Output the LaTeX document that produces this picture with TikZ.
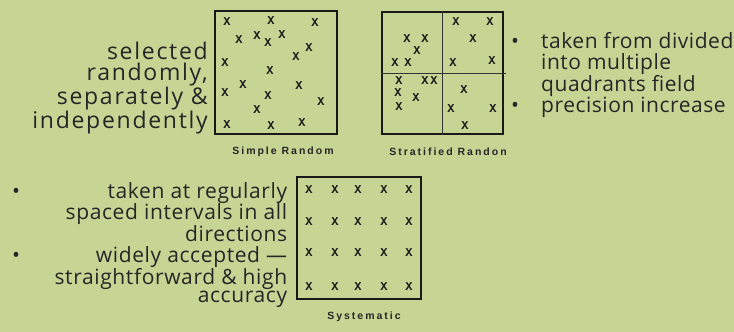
\documentclass[tikz,border=0pt]{standalone}
\usepackage{fontspec}
\setmainfont{Open Sans}
\newfontfamily\markfont{Liberation Mono}
\newfontfamily\capfont[LetterSpace=19]{Liberation Sans}
\usepackage{array}
\usepackage{tikz}
\usetikzlibrary{positioning}

\definecolor{leaf}{HTML}{C6D494}
\definecolor{ink}{HTML}{262626}

\begin{document}
\begin{tikzpicture}[
  x=1pt, y=-1pt,
  plot/.style={draw=black!90, line width=1.4pt, inner sep=0pt},
  divider/.style={draw=black!80, line width=0.8pt},
  xmark/.style={font=\markfont\bfseries\fontsize{12}{12}\selectfont, inner sep=0pt, text=black!90},
  caption/.style={font=\capfont\bfseries\fontsize{10.5}{11}\selectfont, inner sep=0pt, text=black!85},
  notes/.style={text=ink, inner sep=0pt}
]
  % background
  \fill[leaf] (0,0) rectangle (734,332);

  % the three sample plots
  \node[plot, minimum width=122pt, minimum height=123pt] (simple) at (276,72.5) {};
  \node[plot, minimum width=121pt, minimum height=122pt] (strat) at (442.5,73) {};
  \node[plot, minimum width=124pt, minimum height=122pt] (syst) at (359,238) {};
  \draw[divider] (strat.north) -- (strat.south);
  \draw[divider] (strat.west) -- ([xshift=2pt]strat.east);

  \node[caption] (simplecap) at (283,152) {Simple Random};
  \node[caption] (stratcap) at (448,152) {Stratified Randon};
  \node[caption] (systcap) at (364,317) {Systematic};

  % sample points
  \foreach \x/\y [count=\i] in {227/22, 271/21, 315/23, 239/40, 257/36, 268/43, 282/35,
      309/48, 296/57, 225/63, 270/71, 243/85, 299/86, 225/93, 268/96, 321/102,
      257/110, 227/125, 271/126, 302/123}
    \node[xmark] (s\i) at (\x,\y) {X};
  \foreach \x/\y [count=\i] in {456/22, 490/22, 407/39, 425/39, 417/51, 473/39, 395/63,
      408/63, 453/63, 492/61, 399/81, 425/81, 434/81, 398/93, 416/98, 399/107,
      464/90, 451/109, 493/109, 465/126}
    \node[xmark] (t\i) at (\x,\y) {X};
  \foreach \x [count=\c] in {309,335,358,384,409}
    \foreach \y [count=\r] in {190,222,253,287}
      \node[xmark] (g\c\r) at (\x,\y) {X};

  % notes
  \node[notes, anchor=north east, align=right,
        font=\addfontfeature{LetterSpace=7.5}\fontsize{23}{20.7}\selectfont] (simplenote) at (208,42)
    {selected\\randomly,\\separately \&\\independently};
  \node[notes, anchor=north west,
        font=\addfontfeature{LetterSpace=2.5}\fontsize{21}{18.2}\selectfont] (stratnote) at (511,32)
    {\begin{tabular}{@{}p{30pt}@{}l@{}}
       \textbullet & taken from divided\\
                   & into multiple\\
                   & quadrants field\\
       \textbullet & precision increase
     \end{tabular}};
  \node[notes, anchor=north west,
        font=\addfontfeature{LetterSpace=3}\fontsize{21}{18.5}\selectfont] (systnote) at (12,182)
    {\begin{tabular*}{275pt}{@{}l@{\extracolsep{\fill}}r@{}}
       \textbullet & taken at regularly\\
                   & spaced intervals in all\\
                   & directions\\
       \textbullet & widely accepted —\\
                   & straightforward \& high\\
                   & accuracy
     \end{tabular*}};
\end{tikzpicture}
\end{document}
